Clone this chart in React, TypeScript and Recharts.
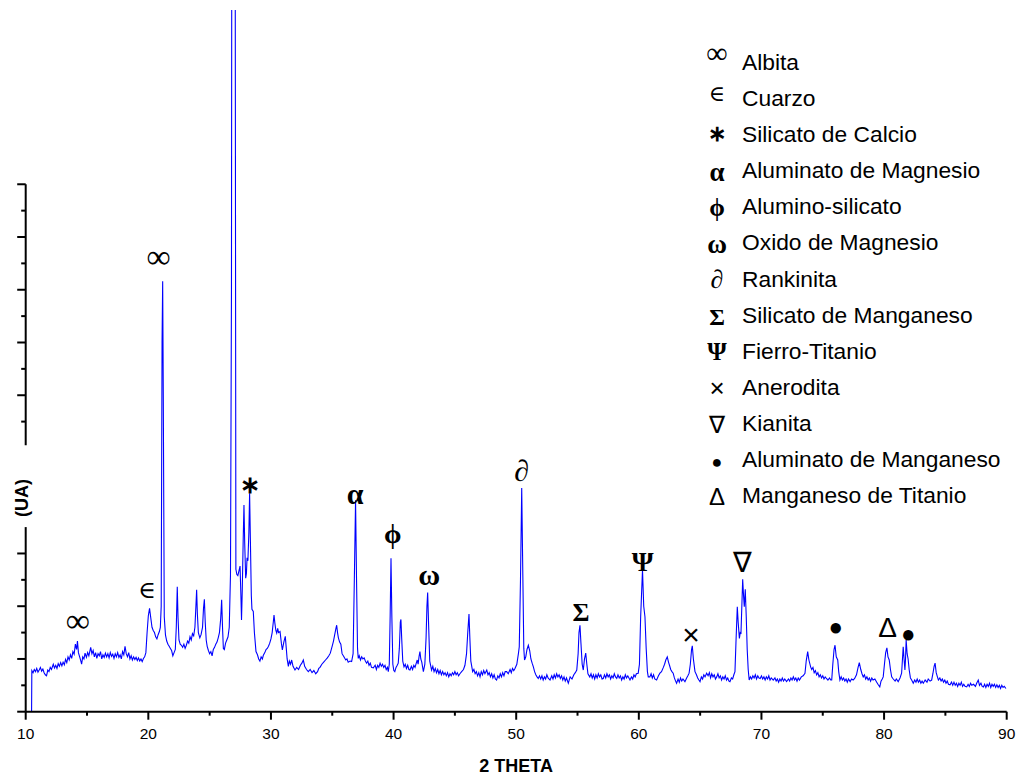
import { ComposedChart, Line, Scatter, XAxis, YAxis } from 'recharts';

// XRD pattern: [2θ, intensity], split by range
const scan10to21: [number, number][] = [
  [10.48, 0], [10.5, 78], [10.6, 74], [10.7, 80], [10.8, 76], [10.9, 82], [11.0, 75], [11.1, 79], [11.2, 84],
  [11.3, 77], [11.4, 81], [11.5, 74], [11.6, 70], [11.7, 68], [11.8, 79], [11.9, 76], [12.0, 84], [12.1, 80],
  [12.25, 90], [12.35, 83], [12.45, 88], [12.55, 82], [12.65, 91], [12.75, 86], [12.85, 93], [12.95, 87],
  [13.05, 94], [13.15, 89], [13.25, 99], [13.35, 93], [13.45, 104], [13.55, 98], [13.65, 108], [13.75, 101],
  [13.85, 114], [13.95, 109], [14.05, 128], [14.15, 118], [14.22, 134], [14.3, 112], [14.4, 104], [14.5, 96],
  [14.56, 90], [14.65, 104], [14.75, 100], [14.84, 111], [14.95, 103], [15.05, 112], [15.15, 106], [15.3, 122],
  [15.4, 110], [15.5, 116], [15.6, 104], [15.7, 112], [15.8, 101], [15.9, 110], [16.0, 106], [16.1, 114],
  [16.2, 100], [16.3, 108], [16.4, 103], [16.5, 111], [16.6, 104], [16.7, 110], [16.8, 102], [16.9, 112],
  [17.0, 105], [17.1, 109], [17.2, 101], [17.3, 110], [17.4, 104], [17.5, 112], [17.6, 103], [17.7, 108],
  [17.8, 100], [17.9, 114], [18.0, 108], [18.1, 124], [18.2, 110], [18.3, 104], [18.4, 112], [18.5, 100],
  [18.6, 106], [18.7, 98], [18.8, 104], [18.9, 99], [19.0, 103], [19.1, 97], [19.2, 102], [19.3, 96],
  [19.4, 100], [19.5, 95], [19.6, 101], [19.7, 104], [19.8, 112], [19.9, 150], [20.0, 182], [20.1, 196],
  [20.2, 178], [20.3, 160], [20.4, 154], [20.5, 150], [20.6, 142], [20.7, 138], [20.8, 146], [20.9, 152],
  [20.98, 160],
];

const scan21to34: [number, number][] = [
  [21.05, 200], [21.12, 700], [21.17, 816], [21.22, 600], [21.3, 180], [21.4, 145], [21.5, 134], [21.6, 128],
  [21.7, 124], [21.8, 120], [21.9, 116], [22.0, 106], [22.1, 112], [22.2, 118], [22.28, 160], [22.36, 237],
  [22.42, 180], [22.5, 136], [22.6, 128], [22.7, 126], [22.8, 122], [22.9, 128], [23.0, 120], [23.1, 126],
  [23.2, 134], [23.3, 130], [23.4, 142], [23.5, 136], [23.6, 148], [23.7, 144], [23.8, 160], [23.88, 200],
  [23.94, 231], [24.0, 185], [24.08, 150], [24.2, 140], [24.3, 146], [24.42, 160], [24.5, 196], [24.57, 213],
  [24.64, 170], [24.72, 136], [24.8, 124], [24.9, 116], [25.0, 110], [25.1, 114], [25.2, 106], [25.3, 118],
  [25.4, 122], [25.5, 128], [25.6, 132], [25.7, 140], [25.8, 150], [25.9, 176], [25.98, 212], [26.05, 160],
  [26.12, 120], [26.2, 118], [26.3, 130], [26.4, 136], [26.5, 142], [26.6, 160], [26.7, 260], [26.78, 800],
  [26.84, 2400], [27.04, 2400], [27.14, 270], [27.22, 260], [27.3, 258], [27.4, 268], [27.48, 276], [27.55, 220],
  [27.6, 174], [27.66, 230], [27.74, 330], [27.8, 392], [27.86, 320], [27.94, 253], [28.0, 262], [28.05, 292],
  [28.12, 286], [28.2, 340], [28.26, 414], [28.32, 330], [28.4, 220], [28.45, 194], [28.56, 190], [28.65, 150],
  [28.78, 114], [28.9, 108], [29.0, 100], [29.1, 96], [29.2, 104], [29.3, 100], [29.38, 107], [29.5, 112],
  [29.6, 118], [29.7, 120], [29.8, 124], [29.9, 130], [30.0, 138], [30.1, 150], [30.2, 172], [30.25, 183],
  [30.32, 168], [30.4, 154], [30.47, 149], [30.55, 158], [30.62, 150], [30.74, 152], [30.85, 130], [30.93, 117],
  [31.05, 132], [31.17, 143], [31.25, 120], [31.32, 100], [31.42, 86], [31.5, 96], [31.6, 90], [31.69, 98],
  [31.8, 86], [31.96, 79], [32.1, 84], [32.25, 80], [32.4, 88], [32.52, 92], [32.64, 98], [32.75, 86],
  [32.9, 80], [33.05, 76], [33.2, 80], [33.35, 74], [33.5, 78], [33.65, 72], [33.8, 76], [33.9, 82],
];

const scan34to47: [number, number][] = [
  [34.0, 84], [34.15, 90], [34.3, 94], [34.45, 98], [34.6, 102], [34.72, 106], [34.84, 111], [35.0, 125],
  [35.1, 134], [35.2, 146], [35.3, 158], [35.36, 164], [35.43, 150], [35.5, 140], [35.6, 132], [35.7, 128],
  [35.8, 110], [35.95, 104], [36.1, 98], [36.2, 100], [36.3, 94], [36.45, 96], [36.58, 95], [36.7, 110],
  [36.8, 250], [36.9, 401], [36.98, 250], [37.06, 120], [37.12, 101], [37.2, 106], [37.3, 98], [37.4, 104],
  [37.5, 100], [37.6, 102], [37.7, 96], [37.8, 92], [37.9, 96], [38.0, 88], [38.1, 92], [38.2, 84],
  [38.35, 83], [38.5, 88], [38.6, 80], [38.7, 88], [38.8, 84], [38.9, 92], [39.0, 86], [39.1, 90],
  [39.2, 84], [39.3, 88], [39.4, 80], [39.5, 84], [39.57, 76], [39.65, 90], [39.72, 180], [39.79, 291],
  [39.86, 180], [39.94, 90], [40.02, 78], [40.1, 76], [40.2, 84], [40.3, 88], [40.38, 92], [40.47, 120],
  [40.55, 170], [40.6, 175], [40.66, 140], [40.75, 96], [40.85, 85], [40.95, 90], [41.05, 82], [41.15, 88],
  [41.25, 80], [41.34, 79], [41.45, 86], [41.55, 80], [41.65, 88], [41.75, 84], [41.85, 92], [41.93, 98],
  [42.0, 90], [42.08, 105], [42.15, 114], [42.22, 100], [42.3, 94], [42.43, 76], [42.55, 90], [42.65, 140],
  [42.72, 200], [42.78, 226], [42.85, 170], [42.95, 96], [43.1, 79], [43.2, 86], [43.3, 76], [43.4, 82],
  [43.5, 74], [43.6, 80], [43.7, 72], [43.8, 78], [43.9, 70], [44.0, 76], [44.1, 70], [44.2, 74],
  [44.3, 68], [44.4, 74], [44.5, 66], [44.6, 72], [44.7, 68], [44.8, 74], [44.9, 70], [45.0, 76],
  [45.1, 70], [45.2, 74], [45.3, 68], [45.41, 72], [45.55, 76], [45.7, 80], [45.82, 88], [45.95, 110],
  [46.05, 150], [46.15, 185], [46.22, 140], [46.3, 96], [46.45, 76], [46.55, 80], [46.65, 72], [46.75, 76],
  [46.85, 68], [46.95, 74],
];

const scan47to60: [number, number][] = [
  [47.05, 66], [47.15, 76], [47.25, 70], [47.35, 78], [47.45, 72], [47.6, 79], [47.7, 70], [47.8, 74],
  [47.9, 66], [48.0, 72], [48.1, 64], [48.2, 70], [48.3, 62], [48.4, 60], [48.5, 68], [48.6, 64],
  [48.7, 72], [48.8, 66], [48.9, 74], [49.0, 68], [49.1, 76], [49.22, 76], [49.35, 72], [49.5, 80],
  [49.6, 74], [49.7, 82], [49.8, 78], [49.9, 82], [50.05, 90], [50.18, 110], [50.25, 123], [50.35, 250],
  [50.45, 424], [50.54, 260], [50.62, 120], [50.68, 98], [50.78, 104], [50.88, 118], [50.99, 126], [51.1, 116],
  [51.2, 100], [51.3, 92], [51.4, 85], [51.5, 76], [51.6, 70], [51.7, 66], [51.8, 63], [51.9, 68],
  [52.0, 62], [52.1, 68], [52.2, 60], [52.3, 66], [52.4, 62], [52.5, 70], [52.6, 64], [52.76, 60],
  [52.9, 68], [53.0, 62], [53.1, 70], [53.2, 64], [53.3, 72], [53.4, 66], [53.5, 70], [53.6, 63],
  [53.7, 68], [53.8, 60], [53.9, 66], [54.0, 58], [54.1, 64], [54.25, 54], [54.4, 66], [54.55, 62],
  [54.7, 70], [54.82, 74], [54.94, 79], [55.05, 110], [55.12, 150], [55.2, 164], [55.28, 130], [55.38, 90],
  [55.47, 79], [55.57, 100], [55.67, 111], [55.76, 90], [55.85, 72], [56.0, 66], [56.1, 72], [56.2, 64],
  [56.3, 70], [56.4, 62], [56.5, 70], [56.6, 64], [56.7, 72], [56.8, 66], [56.9, 70], [57.0, 62],
  [57.1, 63], [57.2, 70], [57.3, 64], [57.4, 72], [57.5, 66], [57.6, 70], [57.7, 62], [57.8, 68],
  [57.9, 64], [58.0, 72], [58.1, 66], [58.2, 63], [58.3, 70], [58.4, 64], [58.5, 68], [58.6, 60],
  [58.7, 66], [58.8, 62], [58.9, 70], [59.0, 64], [59.1, 68], [59.28, 60], [59.4, 66], [59.5, 62],
  [59.6, 70], [59.7, 66], [59.8, 72], [59.95, 73],
];

const scan60to73: [number, number][] = [
  [60.05, 90], [60.15, 180], [60.3, 269], [60.4, 200], [60.5, 180], [60.6, 120], [60.7, 76], [60.77, 66],
  [60.9, 66], [61.0, 72], [61.1, 64], [61.2, 70], [61.3, 62], [61.45, 60], [61.6, 68], [61.72, 73],
  [61.85, 76], [62.0, 84], [62.1, 90], [62.2, 98], [62.32, 104], [62.42, 94], [62.5, 88], [62.6, 80],
  [62.7, 76], [62.8, 73], [62.9, 64], [63.0, 58], [63.08, 54], [63.2, 62], [63.3, 56], [63.4, 64],
  [63.5, 58], [63.6, 62], [63.76, 57], [63.9, 64], [64.0, 68], [64.1, 73], [64.2, 90], [64.3, 118],
  [64.36, 125], [64.45, 100], [64.58, 76], [64.7, 70], [64.8, 64], [64.9, 60], [64.99, 57], [65.1, 66],
  [65.2, 62], [65.3, 70], [65.4, 66], [65.53, 73], [65.65, 68], [65.75, 74], [65.85, 64], [65.95, 72],
  [66.05, 66], [66.15, 70], [66.25, 62], [66.35, 66], [66.45, 72], [66.55, 64], [66.65, 68], [66.75, 60],
  [66.85, 66], [66.95, 62], [67.05, 68], [67.15, 60], [67.25, 64], [67.35, 58], [67.43, 57], [67.55, 64],
  [67.65, 62], [67.75, 70], [67.84, 76], [67.92, 130], [68.03, 199], [68.1, 170], [68.2, 139], [68.27, 150],
  [68.33, 149], [68.4, 200], [68.47, 251], [68.54, 220], [68.6, 199], [68.68, 232], [68.76, 180], [68.84, 117],
  [68.92, 80], [69.0, 60], [69.1, 66], [69.2, 62], [69.3, 68], [69.4, 64], [69.5, 70], [69.6, 62],
  [69.7, 68], [69.8, 64], [69.9, 63], [70.0, 68], [70.1, 62], [70.2, 66], [70.3, 60], [70.4, 66],
  [70.5, 62], [70.6, 68], [70.7, 60], [70.8, 64], [70.96, 60], [71.1, 64], [71.2, 58], [71.3, 62],
  [71.4, 56], [71.5, 62], [71.6, 58], [71.7, 64], [71.8, 58], [71.9, 62], [72.05, 57], [72.2, 62],
  [72.3, 58], [72.4, 64], [72.5, 60], [72.6, 66], [72.7, 60], [72.8, 64], [72.9, 58],
];

const scan73to90: [number, number][] = [
  [73.0, 64], [73.1, 60], [73.25, 66], [73.4, 68], [73.55, 73], [73.65, 96], [73.77, 114], [73.87, 98],
  [74.01, 85], [74.1, 80], [74.2, 84], [74.3, 74], [74.4, 78], [74.5, 70], [74.6, 74], [74.7, 66],
  [74.8, 70], [74.9, 64], [75.0, 68], [75.1, 62], [75.2, 66], [75.3, 63], [75.42, 60], [75.55, 64],
  [75.65, 60], [75.73, 60], [75.82, 90], [75.92, 118], [76.0, 126], [76.1, 104], [76.22, 98], [76.3, 76],
  [76.4, 60], [76.5, 66], [76.6, 60], [76.7, 64], [76.8, 58], [76.9, 62], [77.0, 56], [77.1, 62],
  [77.23, 57], [77.35, 62], [77.48, 60], [77.6, 63], [77.75, 70], [77.88, 84], [77.98, 93], [78.1, 80],
  [78.2, 72], [78.3, 66], [78.4, 70], [78.5, 62], [78.6, 66], [78.7, 60], [78.8, 64], [78.9, 58],
  [79.0, 64], [79.1, 60], [79.25, 62], [79.4, 56], [79.5, 52], [79.65, 47], [79.75, 58], [79.85, 62],
  [79.93, 66], [80.03, 90], [80.13, 112], [80.23, 121], [80.32, 104], [80.42, 98], [80.52, 80], [80.62, 66],
  [80.75, 62], [80.9, 58], [81.0, 62], [81.15, 57], [81.3, 64], [81.43, 73], [81.5, 100], [81.56, 123],
  [81.63, 100], [81.7, 79], [81.75, 100], [81.8, 136], [81.88, 110], [81.96, 100], [82.05, 79], [82.15, 64],
  [82.25, 60], [82.38, 54], [82.5, 60], [82.6, 56], [82.7, 62], [82.8, 56], [82.9, 60], [83.0, 54],
  [83.1, 58], [83.2, 54], [83.35, 60], [83.5, 56], [83.6, 62], [83.75, 58], [83.88, 60], [83.98, 72],
  [84.08, 86], [84.16, 92], [84.25, 74], [84.35, 66], [84.43, 60], [84.55, 64], [84.65, 58], [84.75, 62],
  [84.85, 56], [84.95, 60], [85.05, 54], [85.15, 58], [85.25, 52], [85.38, 51], [85.5, 56], [85.6, 50],
  [85.7, 56], [85.8, 50], [85.9, 54], [86.0, 48], [86.1, 54], [86.2, 50], [86.3, 56], [86.4, 48],
  [86.5, 52], [86.6, 48], [86.74, 47], [86.85, 52], [86.95, 48], [87.05, 54], [87.15, 50], [87.3, 52],
  [87.45, 48], [87.55, 54], [87.68, 60], [87.78, 50], [87.9, 54], [88.0, 48], [88.1, 47], [88.2, 52],
  [88.3, 46], [88.4, 52], [88.5, 48], [88.6, 54], [88.7, 46], [88.8, 52], [88.9, 48], [89.0, 52],
  [89.1, 46], [89.2, 51], [89.3, 46], [89.4, 50], [89.5, 44], [89.6, 50], [89.7, 46], [89.8, 48],
  [89.94, 44],
];

// phase marks placed over the peaks: [2θ, intensity, symbol]
const peakMarks: [number, number, string][] = [
  [14.25, 170, '∞'], [19.9, 231, '∈'], [20.84, 861, '∞'], [28.29, 430, '∗'], [36.87, 408, 'α'],
  [39.93, 335, 'ϕ'], [42.91, 254, 'ω'], [50.45, 458, '∂'], [55.29, 190, 'Σ'], [60.31, 286, 'Ψ'],
  [64.25, 145, '×'], [68.47, 283, '∇'], [76.05, 160, '●'], [80.29, 160, 'Δ'], [81.97, 147, '●'],
];

const legendSymbols = ['∞', '∈', '∗', 'α', 'ϕ', 'ω', '∂', 'Σ', 'Ψ', '×', '∇', '●', 'Δ'];
const legendNames = [
  'Albita', 'Cuarzo', 'Silicato de Calcio', 'Aluminato de Magnesio', 'Alumino-silicato',
  'Oxido de Magnesio', 'Rankinita', 'Silicato de Manganeso', 'Fierro-Titanio', 'Anerodita',
  'Kianita', 'Aluminato de Manganeso', 'Manganeso de Titanio',
];

const xTicks = [10, 15, 20, 25, 30, 35, 40, 45, 50, 55, 60, 65, 70, 75, 80, 85, 90];
const yTicks = [0, 50, 100, 150, 200, 250, 300, 550, 600, 650, 700, 750, 800, 850, 900, 950, 1000];
// the y axis line is broken where the (UA) title sits
const yAxisPieces: [number, number][] = [[0, 350], [505, 1000]];
const Y_MAX = 1330.4;

const scan = [...scan10to21, ...scan21to34, ...scan34to47, ...scan47to60, ...scan60to73, ...scan73to90]
  .map(([t, i]) => ({ t, i }));
const marks = peakMarks.map(([t, i, s]) => ({ t, i, s }));

const PLOT_LEFT = 25.7;
const PLOT_TOP = 10;
const X_AXIS_H = 63.3;
const PLOT_H = 775 - PLOT_TOP - X_AXIS_H;
const yPx = (v: number) => PLOT_TOP + PLOT_H * (1 - v / Y_MAX);

const SANS = "'Liberation Sans', Arial, sans-serif";
const SERIF = "'Liberation Serif', 'DejaVu Serif', 'Times New Roman', serif";

// glyph look per symbol: size in the plot, size in the legend, font, weight, vertical nudge
const glyph: Record<string, { plot: number; key: number; font: string; weight: number; dy: number; keyTop: number }> = {
  '∞': { plot: 34, key: 30, font: SERIF, weight: 400, dy: 0.3, keyTop: -9 },
  '∈': { plot: 24, key: 22, font: SERIF, weight: 400, dy: 0.33, keyTop: -4 },
  '∗': { plot: 24, key: 22, font: SANS, weight: 700, dy: 0.33, keyTop: 0 },
  'α': { plot: 30, key: 27, font: SERIF, weight: 700, dy: 0.25, keyTop: 2 },
  'ϕ': { plot: 28, key: 25, font: SERIF, weight: 700, dy: 0.3, keyTop: 2 },
  'ω': { plot: 30, key: 27, font: SERIF, weight: 700, dy: 0.25, keyTop: 2 },
  '∂': { plot: 30, key: 26, font: SERIF, weight: 400, dy: 0.35, keyTop: 1 },
  'Σ': { plot: 26, key: 24, font: SERIF, weight: 700, dy: 0.35, keyTop: 2 },
  'Ψ': { plot: 28, key: 25, font: SERIF, weight: 700, dy: 0.35, keyTop: 1 },
  '×': { plot: 30, key: 26, font: SANS, weight: 400, dy: 0.33, keyTop: 1 },
  '∇': { plot: 28, key: 24, font: SANS, weight: 400, dy: 0.35, keyTop: 2 },
  '●': { plot: 24, key: 18, font: SANS, weight: 400, dy: 0.33, keyTop: 3 },
  'Δ': { plot: 28, key: 24, font: SANS, weight: 400, dy: 0.35, keyTop: 2 },
};

const XTick = (props: any) => {
  const { x, y, payload } = props;
  const major = payload.value % 10 === 0;
  return (
    <g>
      <line x1={x} y1={y} x2={x} y2={y + (major ? 8 : 4)} stroke="#000" strokeWidth={2} />
      {major && (
        <text x={x} y={y + 27.5} textAnchor="middle" fontSize={15.5} fontFamily={SANS} fill="#000">
          {payload.value}
        </text>
      )}
    </g>
  );
};

const YTick = (props: any) => {
  const { x, y, payload } = props;
  const major = payload.value % 100 === 0;
  return <line x1={x - (major ? 8.5 : 4.5)} y1={y} x2={x} y2={y} stroke="#000" strokeWidth={2} />;
};

const PeakMark = (props: any) => {
  const { cx, cy, payload } = props;
  const g = glyph[payload.s];
  return (
    <text x={cx} y={cy} dy={`${g.dy}em`} textAnchor="middle" fontFamily={g.font}
      fontWeight={g.weight} fontSize={g.plot} fill="#000">
      {payload.s}
    </text>
  );
};

export default function App() {
  return (
    <div style={{ position: 'absolute', left: 0, top: 0, width: 1016, height: 775, background: '#fff' }}>
      <ComposedChart width={1016} height={775} data={scan}
        margin={{ top: PLOT_TOP, right: 9.3, bottom: 0, left: PLOT_LEFT - 1 }}>
        <XAxis type="number" dataKey="t" domain={[10, 90]} ticks={xTicks} interval={0}
          height={X_AXIS_H} tickSize={0} tickMargin={0} tickLine={false}
          axisLine={{ stroke: '#000', strokeWidth: 2 }} tick={<XTick />}
          label={{ value: '2 THETA', position: 'insideBottom', offset: 3, fill: '#000',
            style: { fontFamily: SANS, fontSize: 18, fontWeight: 700 } }} />
        <YAxis type="number" domain={[0, Y_MAX]} allowDataOverflow ticks={yTicks} interval={0}
          width={1} tickSize={0} tickMargin={0} tickLine={false} axisLine={false} tick={<YTick />} />
        <Line type="linear" dataKey="i" stroke="#0000ff" strokeWidth={1.1} dot={false}
          isAnimationActive={false} />
        <Scatter data={marks} dataKey="i" shape={<PeakMark />} isAnimationActive={false} />
      </ComposedChart>

      {/* broken y axis line, drawn on top */}
      <svg width={1016} height={775} style={{ position: 'absolute', left: 0, top: 0, pointerEvents: 'none' }}>
        {yAxisPieces.map(([a, b]) => (
          <line key={`ax-${a}`} x1={PLOT_LEFT} x2={PLOT_LEFT} y1={yPx(a)} y2={yPx(b)}
            stroke="#000" strokeWidth={2} />
        ))}
      </svg>

      <div style={{ position: 'absolute', left: 22, top: 498, transform: 'translate(-50%, -50%) rotate(-90deg)',
        fontFamily: SANS, fontWeight: 700, fontSize: 18, color: '#000', whiteSpace: 'nowrap' }}>
        (UA)
      </div>

      <div style={{ position: 'absolute', left: 700, top: 44, pointerEvents: 'none' }}>
        {legendNames.map((name, k) => {
          const sym = legendSymbols[k];
          const g = glyph[sym];
          return (
            <div key={name} style={{ position: 'relative', height: 36.1, lineHeight: '36.1px', whiteSpace: 'nowrap' }}>
              <span style={{ position: 'absolute', left: 2, width: 30, textAlign: 'center', top: g.keyTop,
                fontFamily: g.font, fontWeight: g.weight, fontSize: g.key, color: '#000' }}>
                {sym}
              </span>
              <span style={{ position: 'absolute', left: 42, fontFamily: SANS, fontSize: 22.8, color: '#000' }}>
                {name}
              </span>
            </div>
          );
        })}
      </div>
    </div>
  );
}
